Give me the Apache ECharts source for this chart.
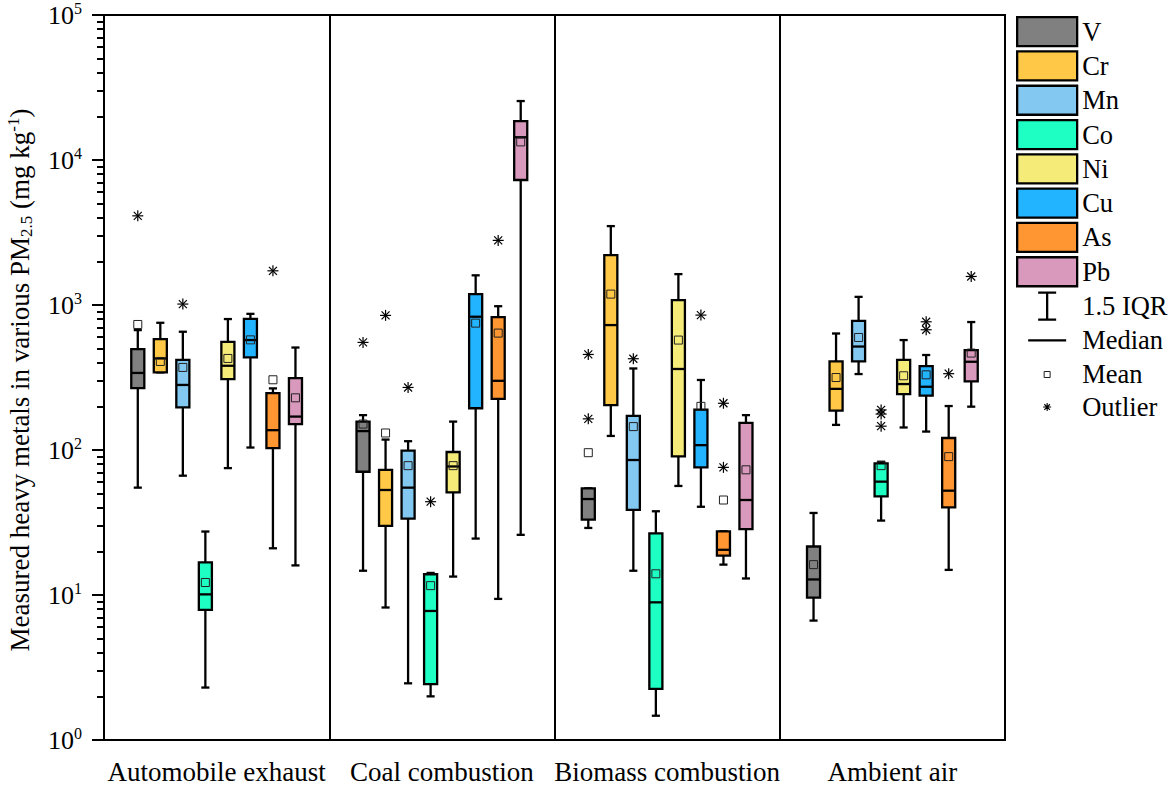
<!DOCTYPE html>
<html><head><meta charset="utf-8">
<script src="https://cdn.jsdelivr.net/npm/echarts@6/dist/echarts.min.js"></script>
<style>html,body{margin:0;padding:0;background:#fff}#c{width:1171px;height:785px}</style>
</head><body><div id="c"></div>
<script>
const categories = ['Automobile exhaust', 'Coal combustion', 'Biomass combustion', 'Ambient air'];
const metals = ['V', 'Cr', 'Mn', 'Co', 'Ni', 'Cu', 'As', 'Pb'];
const metalColors = ['#808080', '#FFC846', '#82C8F0', '#1EFFC3', '#F5EB78', '#23B4FF', '#FF9632', '#D899BD'];

// [lower whisker, Q1, median, Q3, upper whisker] per category
const boxV  = [[55, 267, 340, 497, 671], [14.7, 70.8, 135, 157, 174], [29, 33.1, 45.9, 54.4, 54.4], [6.66, 9.6, 12.8, 21.6, 36.8]];
const boxCr = [[343, 343, 428, 582, 754], [8.2, 30, 53, 73, 118], [125, 204, 727, 2208, 3500], [149, 187, 264, 408, 636]];
const boxMn = [[66.5, 197, 281, 419, 654], [2.46, 33.6, 55, 99, 115], [14.7, 38.6, 85.3, 172, 365], [334, 408, 517, 778, 1138]];
const boxCo = [[2.3, 7.9, 10.1, 16.8, 27.4], [2.0, 2.43, 7.76, 13.9, 14.2], [1.47, 2.25, 8.9, 26.6, 37.8], [32.6, 47.9, 60.5, 80.9, 83]];
const boxNi = [[75, 308, 381, 557, 800], [13.4, 51, 77, 96.9, 157], [56.5, 90.3, 362, 1081, 1633], [143, 243, 285, 419, 573]];
const boxCu = [[104, 435, 573, 803, 869], [24.5, 194, 830, 1187, 1602], [40.6, 75.9, 108, 190, 304], [134, 237, 273, 379, 452]];
const boxAs = [[21, 103, 137, 247, 266], [9.4, 225, 300, 826, 981], [16.2, 18.7, 20.5, 27.5, 27.5], [14.9, 40.2, 52.4, 121, 201]];
const boxPb = [[16, 151, 170, 313, 509], [26, 7280, 14350, 18530, 25500], [13, 28.5, 45.2, 154, 174], [199, 297, 406, 489, 763]];

// mean per category
const meanV  = [734, 151, 95.8, 16.2];
const meanCr = [408, 131, 1189, 316];
const meanMn = [371, 78, 145, 597];
const meanCo = [12.2, 11.6, 14.0, 78];
const meanNi = [428, 78, 573, 325];
const meanCu = [575, 750, 200, 330];
const meanAs = [305, 640, 45.2, 90];
const meanPb = [229, 13330, 73, 466];

// [category index, metal index, value]
const outliers = [
  [0, 0, 4120], [0, 2, 1015], [0, 6, 1721],
  [1, 0, 552], [1, 1, 848], [1, 2, 270], [1, 3, 44], [1, 6, 2790],
  [2, 0, 456], [2, 0, 164], [2, 2, 426], [2, 5, 852], [2, 6, 210], [2, 6, 75.9],
  [3, 3, 189], [3, 3, 177], [3, 3, 146], [3, 5, 766], [3, 5, 675], [3, 6, 336], [3, 7, 1573]
];

const yMajorTicks = [1, 10, 100, 1000, 10000, 100000];
const yMinorTicks = [2, 3, 4, 5, 6, 7, 8, 9, 20, 30, 40, 50, 60, 70, 80, 90,
  200, 300, 400, 500, 600, 700, 800, 900, 2000, 3000, 4000, 5000, 6000, 7000, 8000, 9000,
  20000, 30000, 40000, 50000, 60000, 70000, 80000, 90000];

const boxes = [boxV, boxCr, boxMn, boxCo, boxNi, boxCu, boxAs, boxPb];
const means = [meanV, meanCr, meanMn, meanCo, meanNi, meanCu, meanAs, meanPb];

const FONT = 'Liberation Serif, Times New Roman, serif';

function slotX(api, cat, m) {
  const band = api.size([1, 0])[0];
  return { cx: api.coord([cat, 1])[0] + (m - 3.5) * 0.1 * band, band: band };
}

function makeBoxRender(m) {
  return function (params, api) {
    const cat = api.value(0);
    const s = slotX(api, cat, m);
    const cx = s.cx, hw = 0.029 * s.band, cap = 0.018 * s.band;
    const y = function (i) { return api.coord([cat, api.value(i)])[1]; };
    const yLo = y(1), yQ1 = y(2), yMed = y(3), yQ3 = y(4), yHi = y(5);
    const ls = { stroke: '#000', lineWidth: 2.3 };
    return {
      type: 'group', children: [
        { type: 'line', shape: { x1: cx, y1: yHi, x2: cx, y2: yLo }, style: ls },
        { type: 'line', shape: { x1: cx - cap, y1: yHi, x2: cx + cap, y2: yHi }, style: ls },
        { type: 'line', shape: { x1: cx - cap, y1: yLo, x2: cx + cap, y2: yLo }, style: ls },
        { type: 'rect', shape: { x: cx - hw, y: yQ3, width: 2 * hw, height: yQ1 - yQ3 }, style: { fill: metalColors[m], stroke: '#000', lineWidth: 2.3 } },
        { type: 'line', shape: { x1: cx - hw, y1: yMed, x2: cx + hw, y2: yMed }, style: ls }
      ]
    };
  };
}

function meanRender(params, api) {
  const cat = api.value(0), m = api.value(1);
  const cx = slotX(api, cat, m).cx;
  const cy = api.coord([cat, api.value(2)])[1];
  return { type: 'rect', shape: { x: cx - 4, y: cy - 4, width: 8, height: 8 }, style: { fill: 'transparent', stroke: '#222', lineWidth: 1 } };
}

function outlierRender(params, api) {
  const cat = api.value(0), m = api.value(1);
  const cx = slotX(api, cat, m).cx;
  const cy = api.coord([cat, api.value(2)])[1];
  const r = 5.5, d = 4;
  const st = { stroke: '#000', lineWidth: 1.2 };
  return {
    type: 'group', children: [
      { type: 'line', shape: { x1: cx, y1: cy - r, x2: cx, y2: cy + r }, style: st },
      { type: 'line', shape: { x1: cx - r, y1: cy, x2: cx + r, y2: cy }, style: st },
      { type: 'line', shape: { x1: cx - d, y1: cy - d, x2: cx + d, y2: cy + d }, style: st },
      { type: 'line', shape: { x1: cx + d, y1: cy - d, x2: cx - d, y2: cy + d }, style: st }
    ]
  };
}

const series = metals.map(function (name, m) {
  return {
    name: name, type: 'custom', renderItem: makeBoxRender(m), z: 2,
    encode: { x: 0, y: [1, 2, 3, 4, 5] },
    itemStyle: { color: metalColors[m] },
    data: boxes[m].map(function (b, i) { return [i].concat(b); })
  };
});
series.push({ name: '1.5 IQR', type: 'custom', renderItem: function () { return null; }, data: [] });
series.push({ name: 'Median', type: 'custom', renderItem: function () { return null; }, data: [] });
const meanData = [];
means.forEach(function (arr, m) { arr.forEach(function (v, i) { meanData.push([i, m, v]); }); });
series.push({ name: 'Mean', type: 'custom', renderItem: meanRender, z: 3, encode: { x: 0, y: 2 }, data: meanData });
series.push({ name: 'Outlier', type: 'custom', renderItem: outlierRender, z: 3, encode: { x: 0, y: 2 }, data: outliers });

const legendData = metals.map(function (name, m) {
  return { name: name, icon: 'rect', itemStyle: { color: metalColors[m], borderColor: '#000', borderWidth: 2.3 } };
}).concat([
  { name: '1.5 IQR', icon: 'path://M0,0M60,29M21,1L39,1M30,1L30,28M21,28L39,28', itemStyle: { color: 'transparent', borderColor: '#000', borderWidth: 2.3 } },
  { name: 'Median', icon: 'path://M0,0M60,29M11,14.5L49,14.5', itemStyle: { color: 'transparent', borderColor: '#000', borderWidth: 2.3 } },
  { name: 'Mean', icon: 'path://M0,0M60,29M27,12L33,12L33,18L27,18Z', itemStyle: { color: 'transparent', borderColor: '#222', borderWidth: 1 } },
  { name: 'Outlier', icon: 'path://M0,0M60,29M30,10.5L30,18.5M26,14.5L34,14.5M27.2,11.7L32.8,17.3M32.8,11.7L27.2,17.3', itemStyle: { color: 'transparent', borderColor: '#000', borderWidth: 1.1 } }
]);

const chart = echarts.init(document.getElementById('c'), null, { renderer: 'svg' });
chart.setOption({
  animation: false,
  backgroundColor: '#fff',
  grid: { left: 104, right: 166, top: 14, bottom: 45, show: true, borderColor: '#000', borderWidth: 2, backgroundColor: 'transparent' },
  xAxis: {
    type: 'category', data: categories, boundaryGap: true,
    axisLine: { lineStyle: { color: '#000', width: 2 } },
    axisTick: { alignWithLabel: true, length: 12, lineStyle: { color: '#000', width: 2 } },
    axisLabel: { fontSize: 27, fontFamily: FONT, color: '#000', margin: 18, interval: 0 },
    splitLine: { show: true, interval: 0, lineStyle: { color: '#000', width: 2 } }
  },
  yAxis: [{
    type: 'log', logBase: 10, min: 1, max: 100000,
    axisLine: { show: true, lineStyle: { color: '#000', width: 2 } },
    axisTick: { show: true, length: 12, customValues: yMajorTicks, lineStyle: { color: '#000', width: 2 } },
    splitLine: { show: false },
    axisLabel: {
      margin: 22, customValues: yMajorTicks,
      formatter: function (v) { return '{a|10}{b|' + Math.round(Math.log10(v)) + '}'; },
      rich: {
        a: { fontSize: 26, fontFamily: FONT, color: '#000', lineHeight: 30 },
        b: { fontSize: 16, fontFamily: FONT, color: '#000', verticalAlign: 'top', lineHeight: 16 }
      }
    }
  }, {
    type: 'log', logBase: 10, min: 1, max: 100000, position: 'left',
    axisLine: { show: false },
    axisTick: { show: true, length: 7, customValues: yMinorTicks, lineStyle: { color: '#000', width: 2 } },
    axisLabel: { show: false },
    splitLine: { show: false }
  }],
  legend: {
    orient: 'vertical', left: 1011, top: 11, itemWidth: 60, itemHeight: 29, itemGap: 3,
    selectedMode: false,
    textStyle: { fontSize: 26.5, fontFamily: FONT, color: '#000' },
    data: legendData
  },
  graphic: [{
    type: 'text', x: 20, y: 380, rotation: Math.PI / 2,
    style: {
      text: '{a|Measured heavy metals in various PM}{s|2.5}{a| (mg kg}{p|-1}{a|)}',
      align: 'center', verticalAlign: 'middle', fill: '#000',
      rich: {
        a: { fontSize: 27, fontFamily: FONT, fill: '#000', lineHeight: 30 },
        s: { fontSize: 17, fontFamily: FONT, fill: '#000', verticalAlign: 'bottom', lineHeight: 17 },
        p: { fontSize: 17, fontFamily: FONT, fill: '#000', verticalAlign: 'top', lineHeight: 17 }
      }
    }
  }],
  series: series
});
</script>
</body></html>
